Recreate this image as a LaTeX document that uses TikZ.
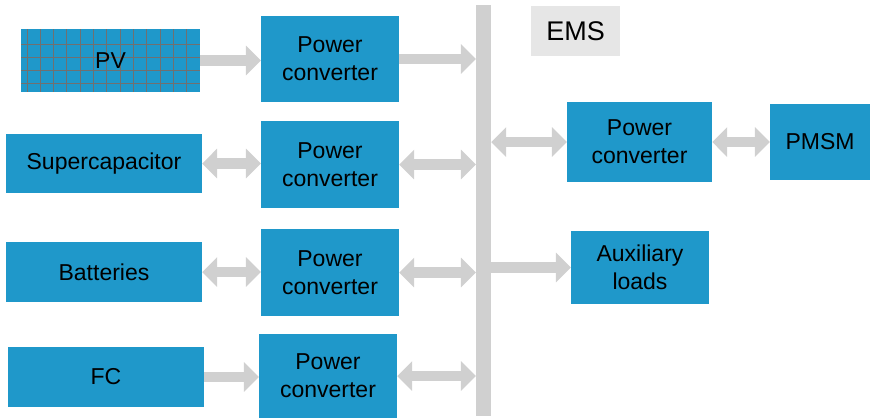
\documentclass[tikz,border=0pt]{standalone}
\usepackage{fontspec}
\setmainfont{Liberation Sans}
\usetikzlibrary{arrows.meta}
\definecolor{boxblue}{HTML}{1F98CA}
\definecolor{busgray}{HTML}{D0D0D0}
\definecolor{emsgray}{HTML}{E6E6E6}
\definecolor{gridgray}{HTML}{707070}

\begin{document}
\begin{tikzpicture}[
            x=1pt, y=-1pt,
            blk/.style={rectangle, fill=boxblue, inner sep=0pt, align=center, font=\fontsize{23}{28}\selectfont},
            pvgrid/.style={path picture={
                \foreach \gx in {6,19.3,...,170}
                    \draw[gridgray, line width=0.9pt] ([xshift=\gx pt]path picture bounding box.north west) -- ([xshift=\gx pt]path picture bounding box.south west);
                \foreach \gy in {15,28.3,41.6,54.9}
                    \draw[gridgray, line width=0.9pt] ([yshift=-\gy pt]path picture bounding box.north west) -- ([yshift=-\gy pt]path picture bounding box.north east);
            }},
            flow/.style={draw=busgray, line width=10.5pt, -{Triangle[width=29pt, length=15pt]}},
            dflow/.style={draw=busgray, line width=10.5pt, {Triangle[width=29pt, length=15pt]}-{Triangle[width=29pt, length=15pt]}},
        ]
            \useasboundingbox (0,0) rectangle (870,418);

            % DC bus and EMS label
            \node[fill=busgray, minimum width=15pt, minimum height=411pt, inner sep=0pt] (bus) at (483.5,210.5) {};
            \node[fill=emsgray, minimum width=89pt, minimum height=50pt, inner sep=0pt, font=\fontsize{27}{30}\selectfont] (ems) at (575.5,31) {EMS};

            % sources
            \node[blk, pvgrid, minimum width=179pt, minimum height=63pt] (pv) at (110.5,60.5) {PV};
            \node[blk, minimum width=196pt, minimum height=59pt] (sc) at (104,163.5) {Supercapacitor};
            \node[blk, minimum width=196pt, minimum height=60pt] (bat) at (104,272) {Batteries};
            \node[blk, minimum width=196pt, minimum height=60pt] (fc) at (106,377) {FC};

            % converters
            \node[blk, minimum width=138pt, minimum height=86pt] (pc1) at (330,59) {Power\\converter};
            \node[blk, minimum width=138pt, minimum height=87pt] (pc2) at (330,164.5) {Power\\converter};
            \node[blk, minimum width=138pt, minimum height=87pt] (pc3) at (330,272.5) {Power\\converter};
            \node[blk, minimum width=138pt, minimum height=84pt] (pc4) at (328,376) {Power\\converter};
            \node[blk, minimum width=145pt, minimum height=80pt] (pcm) at (639.5,142) {Power\\converter};

            % loads
            \node[blk, minimum width=100pt, minimum height=76pt] (pmsm) at (820,142) {PMSM};
            \node[blk, minimum width=138pt, minimum height=73pt] (aux) at (640,267.5) {Auxiliary\\loads};

            % source side
            \draw[flow] (pv.east) -- (pv.east -| pc1.west);
            \draw[dflow] (sc.east) -- (sc.east -| pc2.west);
            \draw[dflow] (bat.east) -- (bat.east -| pc3.west);
            \draw[flow] (fc.east) -- (fc.east -| pc4.west);

            % converter to bus
            \draw[flow] (pc1.east) -- (pc1.east -| bus.west);
            \draw[dflow] (pc2.east) -- (pc2.east -| bus.west);
            \draw[dflow] (pc3.east) -- (pc3.east -| bus.west);
            \draw[dflow] (pc4.east) -- (pc4.east -| bus.west);

            % bus to loads
            \draw[dflow] (pcm.west -| bus.east) -- (pcm.west);
            \draw[dflow] (pcm.east) -- (pmsm.west);
            \draw[flow] (aux.west -| bus.east) -- (aux.west);
        \end{tikzpicture}
\end{document}
